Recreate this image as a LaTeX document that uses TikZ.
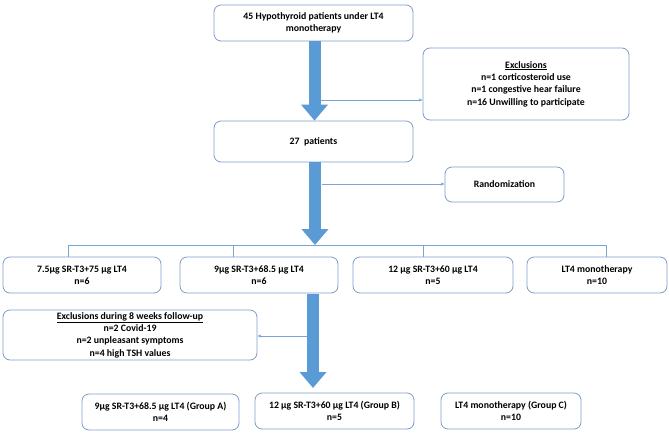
\documentclass[tikz,border=0pt]{standalone}
\usepackage{fontspec}
\setmainfont{Carlito}
\usetikzlibrary{arrows.meta}
\definecolor{boxline}{RGB}{125,155,200}
\definecolor{arrowblue}{RGB}{91,155,213}
\definecolor{linkblue}{RGB}{120,165,215}
\begin{document}
\begin{tikzpicture}[x=1pt,y=-1pt, line join=round, font=\fontsize{9.8}{12.3}\selectfont\bfseries,
	box/.style={draw=boxline, rounded corners=7pt, align=center, inner sep=0pt, line width=0.8pt, minimum height=36pt},
	fat/.style={arrowblue, line width=12pt, -{Triangle[width=26pt,length=16pt]}},
	link/.style={linkblue, line width=0.6pt, -{Stealth[length=4pt,width=3pt]}},
	branch/.style={linkblue, line width=0.7pt}]
			\useasboundingbox (0,0) rectangle (669,439);
			% boxes
			\node[box, minimum width=199pt] (top) at (313.5,23) {45 Hypothyroid patients under LT4\\monotherapy};
			\node[box, minimum width=206pt, minimum height=72pt] (excl) at (526,84) {\underline{Exclusions}\\n=1 corticosteroid use\\n=1 congestive hear failure\\n=16 Unwilling to participate};
			\node[box, minimum width=199pt, minimum height=41pt] (pat) at (313.5,141.5) {27\ \ patients};
			\node[box, minimum width=119pt, minimum height=35pt] (rand) at (504.5,184.5) {Randomization};
			\node[box, minimum width=158pt] (r1) at (82,275) {7.5µg SR-T3+75 µg LT4\\n=6};
			\node[box, minimum width=158pt] (r2) at (259,275) {9µg SR-T3+68.5 µg LT4\\n=6};
			\node[box, minimum width=160pt] (r3) at (433,275) {12 µg SR-T3+60 µg LT4\\n=5};
			\node[box, minimum width=140pt] (r4) at (597,275) {LT4 monotherapy\\n=10};
			\node[box, minimum width=254pt, minimum height=50pt] (exf) at (130,335) {\underline{Exclusions during 8 weeks follow-up}\\n=2 Covid-19\\n=2 unpleasant symptoms\\n=4 high TSH values};
			\node[box, minimum width=157pt] (ga) at (160.5,412) {9µg SR-T3+68.5 µg LT4 (Group A)\\n=4};
			\node[box, minimum width=159pt] (gb) at (334.5,411) {12 µg SR-T3+60 µg LT4 (Group B)\\n=5};
			\node[box, minimum width=140pt] (gc) at (511,411) {LT4 monotherapy (Group C)\\n=10};
			% branch to the four arms
			\coordinate (b1) at (68,245); \coordinate (b2) at (233,245);
			\coordinate (b3) at (423,245); \coordinate (b4) at (606,245);
			\draw[branch] (b1) -- (b4);
			\foreach \b/\r in {b1/r1,b2/r2,b3/r3,b4/r4} \draw[branch] (\b) -- (\b |- \r.north);
			% side arrows
			\coordinate (s1) at (321,100); \coordinate (s2) at (322,184); \coordinate (s3) at (307,336);
			\draw[link] (s1) -- (s1 -| excl.west);
			\draw[link] (s2) -- (s2 -| rand.west);
			\draw[link] (s3) -- (s3 -| exf.east);
			% main arrows
			\coordinate (t1) at (314.5,121); \coordinate (t2) at (315,245); \coordinate (t3) at (313,388);
			\draw[fat] (top.south -| t1) -- (pat.north -| t1);
			\draw[fat] (pat.south -| t2) -- (t2);
			\draw[fat] (r2.south -| t3) ++(0,1) -- (t3);
		\end{tikzpicture}
\end{document}
